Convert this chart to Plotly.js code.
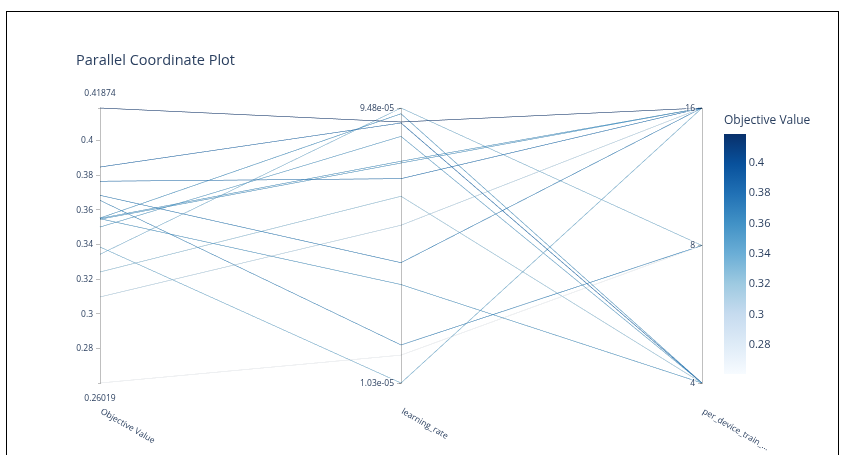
<!DOCTYPE html>
<html>
<head>
<meta charset="utf-8">
<script src="https://cdn.plot.ly/plotly-3.0.1.min.js"></script>
<style>
  html, body { margin: 0; padding: 0; background: #fff; }
  #plot { position: absolute; left: 0; top: 0; width: 843px; height: 455px; }
  #frame { position: absolute; left: 6px; top: 11px; width: 831px; height: 470px; border: 1px solid #000; pointer-events: none; }
</style>
</head>
<body>
<div id="plot"></div>
<div id="frame"></div>
<script>
// Trials: objective value, learning rate, per-device batch size
const objectiveValue = [0.41874, 0.3847, 0.3765, 0.3684, 0.3655, 0.3549, 0.3551, 0.3546, 0.3553, 0.3501, 0.3386, 0.3344, 0.3242, 0.3098, 0.26019];
const learningRate   = [8.47e-5, 8.40e-5, 5.36e-5, 2.72e-5, 1.40e-5, 2.28e-5, 6.17e-5, 6.08e-5, 9.05e-5, 7.54e-5, 1.03e-5, 9.48e-5, 4.65e-5, 3.68e-5, 1.29e-5];
const batchSize      = [16, 4, 16, 16, 8, 4, 16, 16, 4, 4, 16, 8, 4, 16, 8];

const lrTickValues = [1.03e-5, 9.48e-5];
const lrTickText = ['1.03e-05', '9.48e-05'];
const batchTickValues = [4, 8, 16];
const batchTickText = ['4', '8', '16'];

const dimLabels = ['Objective Value', 'learning_rate', 'per_device_train_...'];

const BLUES = [
  [0, 'rgb(247,251,255)'], [0.125, 'rgb(222,235,247)'], [0.25, 'rgb(198,219,239)'],
  [0.375, 'rgb(158,202,225)'], [0.5, 'rgb(107,174,214)'], [0.625, 'rgb(66,146,198)'],
  [0.75, 'rgb(33,113,181)'], [0.875, 'rgb(8,81,156)'], [1, 'rgb(8,48,107)']
];

const log10 = Math.log10;
const objMin = Math.min(...objectiveValue), objMax = Math.max(...objectiveValue);

const trace = {
  type: 'parcoords',
  labelangle: 30,
  labelside: 'bottom',
  labelfont: {size: 8.5, color: '#2a3f5f'},
  tickfont: {size: 8.5, color: '#2a3f5f'},
  rangefont: {size: 8.5, color: '#2a3f5f'},
  line: {
    color: objectiveValue,
    colorscale: BLUES,
    cmin: objMin, cmax: objMax,
    showscale: true,
    colorbar: {
      title: {text: 'Objective Value', font: {size: 12, color: '#2a3f5f'}},
      thickness: 22,
      lenmode: 'pixels', len: 262,
      yanchor: 'top', y: (385 - 112) / 279,
      ypad: 0,
      tick0: 0, dtick: 0.02,
      tickfont: {size: 11, color: '#2a3f5f'},
      outlinewidth: 0
    }
  },
  dimensions: [
    {label: dimLabels[0], values: objectiveValue, range: [objMin, objMax]},
    {label: dimLabels[1], values: learningRate.map(log10),
     range: [log10(lrTickValues[0]), log10(lrTickValues[1])],
     tickvals: lrTickValues.map(log10), ticktext: lrTickText},
    {label: dimLabels[2], values: batchSize.map(log10),
     range: [log10(batchTickValues[0]), log10(batchTickValues[2])],
     tickvals: batchTickValues.map(log10), ticktext: batchTickText}
  ]
};

const layout = {
  width: 843, height: 455,
  margin: {l: 100, r: 141, t: 106, b: 70},
  font: {family: '"Open Sans", sans-serif', color: '#2a3f5f'},
  paper_bgcolor: '#fff',
  title: {
    text: 'Parallel Coordinate Plot',
    xref: 'container', x: 76 / 843, xanchor: 'left',
    yref: 'container', y: 1 - 60 / 455, yanchor: 'middle',
    font: {size: 14.5, color: '#2a3f5f'}
  }
};

Plotly.newPlot('plot', [trace], layout, {displayModeBar: false, staticPlot: true});
</script>
</body>
</html>
